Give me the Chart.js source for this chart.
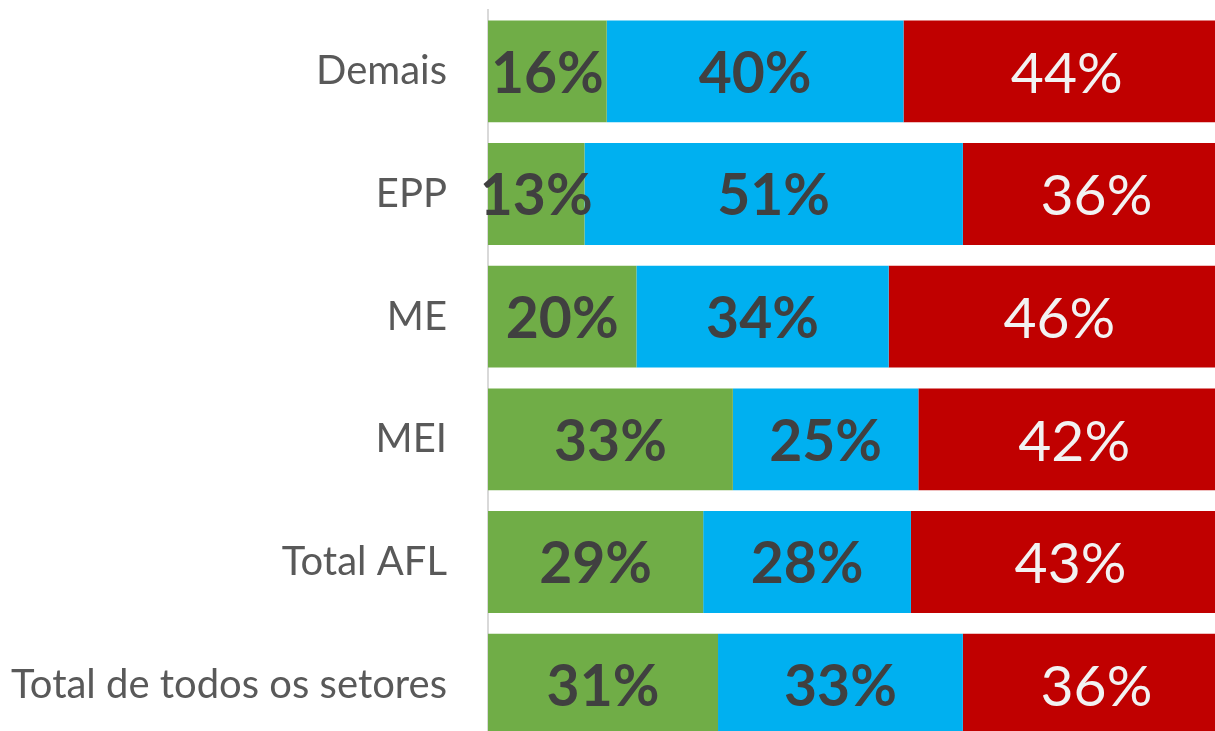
<!DOCTYPE html>
<html>
<head>
<meta charset="utf-8">
<script src="https://cdn.jsdelivr.net/npm/chart.js@4"></script>
<style>
  html, body { margin: 0; padding: 0; background: #fff; overflow: hidden; }
  canvas { display: block; }
</style>
</head>
<body>
<canvas id="myChart" width="1230" height="746"></canvas>
<script>
// categories, top to bottom
const categories = ['Demais', 'EPP', 'ME', 'MEI', 'Total AFL', 'Total de todos os setores'];

// share of each group (%)
const greenValues = [16, 13, 20, 33, 29, 31];
const blueValues = [40, 51, 34, 25, 28, 33];
const redValues = [44, 36, 46, 42, 43, 36];

// draw the percentage inside each bar segment
const barLabels = {
  id: 'barLabels',
  afterDatasetsDraw(chart) {
    const ctx = chart.ctx;
    chart.data.datasets.forEach((ds, i) => {
      const meta = chart.getDatasetMeta(i);
      meta.data.forEach((bar, j) => {
        const cx = (bar.x + bar.base) / 2;
        ctx.save();
        ctx.font = ds.labelFont;
        ctx.fillStyle = ds.labelColor;
        ctx.textAlign = 'center';
        ctx.textBaseline = 'middle';
        ctx.fillText(ds.data[j] + '%', cx, bar.y + 3);
        ctx.restore();
      });
    });
  }
};

var ctx = document.getElementById('myChart');
var chart = new Chart(ctx, {
  type: 'bar',
  data: {
    labels: categories,
    datasets: [
      {
        label: 'Verde',
        backgroundColor: '#70ad47',
        data: greenValues,
        labelColor: '#404040',
        labelFont: 'bold 57px Lato'
      },
      {
        label: 'Azul',
        backgroundColor: '#00b0f0',
        data: blueValues,
        labelColor: '#404040',
        labelFont: 'bold 57px Lato'
      },
      {
        label: 'Vermelho',
        backgroundColor: '#c00000',
        data: redValues,
        labelColor: '#f2f2f2',
        labelFont: '57px Lato'
      }
    ]
  },
  plugins: [barLabels],
  options: {
    indexAxis: 'y',
    responsive: false,
    maintainAspectRatio: false,
    animation: false,
    layout: { padding: { top: 10, left: 0, right: 0, bottom: 0 } },
    datasets: {
      bar: { barPercentage: 0.83, categoryPercentage: 1 }
    },
    plugins: {
      legend: { display: false },
      tooltip: { enabled: false }
    },
    scales: {
      x: {
        stacked: true,
        min: 0,
        max: 100,
        display: false
      },
      y: {
        stacked: true,
        grid: { display: false, drawTicks: false },
        border: { display: true, color: '#d9d9d9', width: 2 },
        ticks: {
          color: '#595959',
          padding: 41,
          font: { family: 'Lato', size: 40 }
        },
        afterFit(scale) {
          scale.width = 488;
          scale.paddingTop = 0;
          scale.paddingBottom = 0;
        }
      }
    }
  }
});
</script>
</body>
</html>
